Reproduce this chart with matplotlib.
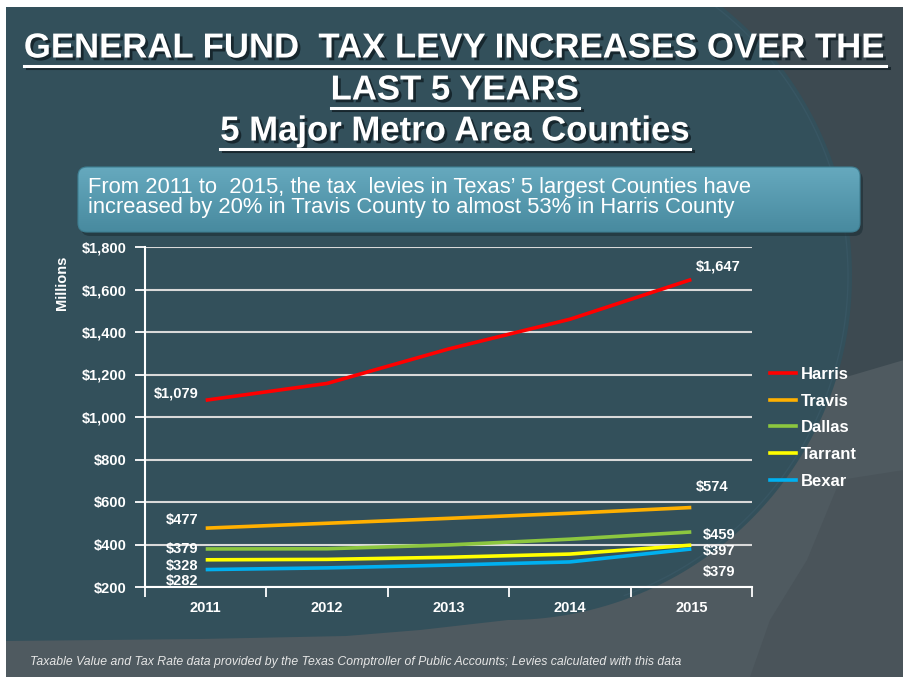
import numpy as np
import matplotlib
matplotlib.use("Agg")
import matplotlib.pyplot as plt
import matplotlib.patheffects as pe
from matplotlib.patches import Polygon, FancyBboxPatch, Rectangle
from matplotlib.lines import Line2D

# ---------------- data ----------------
years = ["2011", "2012", "2013", "2014", "2015"]
harris = [1079, 1158, 1320, 1460, 1647]
travis = [477, 500, 523, 547, 574]
dallas = [379, 380, 398, 425, 459]
tarrant = [328, 330, 340, 355, 397]
bexar = [282, 290, 303, 318, 379]
series_names = ["Harris", "Travis", "Dallas", "Tarrant", "Bexar"]
series_values = [harris, travis, dallas, tarrant, bexar]
series_colors = ["#ff0000", "#ffb000", "#8cc63f", "#ffff00", "#00b0f0"]
y_ticks = [200, 400, 600, 800, 1000, 1200, 1400, 1600, 1800]
y_ticklabels = ["$200", "$400", "$600", "$800", "$1,000", "$1,200", "$1,400", "$1,600", "$1,800"]

title_lines = ["GENERAL FUND  TAX LEVY INCREASES OVER THE", "LAST 5 YEARS", "5 Major Metro Area Counties"]
callout_lines = ["From 2011 to  2015, the tax  levies in Texas\u2019 5 largest Counties have",
                 "increased by 20% in Travis County to almost 53% in Harris County"]
footer = "Taxable Value and Tax Rate data provided by the Texas Comptroller of Public Accounts; Levies calculated with this data"

FONT = ["Liberation Sans", "DejaVu Sans"]
plt.rcParams["font.family"] = FONT

W, H = 904, 677
fig = plt.figure(figsize=(W / 100, H / 100), dpi=100)
fig.patch.set_facecolor("white")

# ---------------- background (pixel coordinates, y down) ----------------
bg = fig.add_axes([0, 0, 1, 1])
bg.set_xlim(0, W)
bg.set_ylim(H, 0)
bg.axis("off")

bg.add_patch(Rectangle((6, 7), W - 6, H - 7, facecolor="#3d4a51", edgecolor="none", zorder=0))
bg.add_patch(Polygon([(W, 360), (W, H), (6, H), (6, 624)], closed=True,
                     facecolor="#4f5a60", edgecolor="none", zorder=0.5))
bg.add_patch(Polygon([(W, 470), (840, 480), (807, 560), (770, 620), (750, H), (W, H)], closed=True,
                     facecolor="#4a545a", edgecolor="none", zorder=0.6))

cx, cy, r = 508, 276, 344
a_start = np.arcsin((7 - cy) / r)
ang = np.linspace(a_start, np.pi / 2, 120)
arc = np.column_stack([cx + r * np.cos(ang), cy + r * np.sin(ang)])
pts = [(6, 7)] + [tuple(p) for p in arc] + [(420, 630), (346, 636), (200, 639), (6, 641)]
bg.add_patch(Polygon(pts, closed=True, facecolor="#33505b", edgecolor="none", zorder=1))
ang2 = np.linspace(np.deg2rad(-60), np.deg2rad(70), 120)
bg.plot(cx + (r - 4) * np.cos(ang2), cy + (r - 4) * np.sin(ang2), color="#385663", lw=1.0, zorder=1.1)

bg.add_patch(Rectangle((0, 0), W, 7, facecolor="white", edgecolor="none", zorder=2))
bg.add_patch(Rectangle((0, 0), 6, H, facecolor="white", edgecolor="none", zorder=2))

# ---------------- title ----------------
shadow = [pe.withSimplePatchShadow(offset=(2, -2), shadow_rgbFace="#14232a", alpha=0.9)]
title_y = [48, 90, 131]
title_objs = []
for txt, yy in zip(title_lines, title_y):
    t = bg.text(455, yy, txt, ha="center", va="center", fontsize=25, fontweight="bold",
                color="white", path_effects=shadow, zorder=5)
    title_objs.append(t)

# ---------------- callout box ----------------
bx0, by0, bx1, by1 = 78, 167, 860, 232
bg.add_patch(FancyBboxPatch((bx0 + 3, by0 + 4), bx1 - bx0, by1 - by0,
                            boxstyle="round,pad=0,rounding_size=9", facecolor="#1d2f36",
                            edgecolor="none", alpha=0.6, zorder=3))
box = FancyBboxPatch((bx0, by0), bx1 - bx0, by1 - by0, boxstyle="round,pad=0,rounding_size=9",
                     facecolor="none", edgecolor="#3f7f92", linewidth=0.8, zorder=4)
bg.add_patch(box)
c1 = np.array([0x66, 0xa9, 0xbe]) / 255
c2 = np.array([0x48, 0x8a, 0x9f]) / 255
g2 = np.linspace(0, 1, 128)[:, None, None]
bimg = c1[None, None, :] * (1 - g2) + c2[None, None, :] * g2
im = bg.imshow(bimg, extent=[bx0, bx1, by1, by0], aspect="auto", zorder=3.5)
im.set_clip_path(box)
for txt, yy in zip(callout_lines, [187, 208]):
    bg.text(88, yy, txt, ha="left", va="center", fontsize=15.8, color="white", zorder=6)

# ---------------- footer ----------------
bg.text(30, 662, footer, ha="left", va="center", fontsize=8.8, style="italic",
        color="#e6e6e6", zorder=6)

# ---------------- chart ----------------
x0, x1, ytop, ybot = 145, 752, 247, 587
ax = fig.add_axes([x0 / W, 1 - ybot / H, (x1 - x0) / W, (ybot - ytop) / H])
ax.set_facecolor("none")
xs = np.arange(len(years))
for name, vals, col in zip(series_names, series_values, series_colors):
    ax.plot(xs, vals, color=col, lw=2.6, label=name, solid_capstyle="butt", zorder=3)

ax.set_xlim(-0.5, len(years) - 0.5)
ax.set_ylim(200, 1800)
ax.set_yticks(y_ticks)
ax.set_yticklabels(y_ticklabels)
ax.set_xticks(np.arange(-0.5, len(years), 1.0))
ax.set_xticklabels([])
ax.set_xticks(xs, minor=True)
ax.set_xticklabels(years, minor=True)
ax.tick_params(axis="x", which="major", length=7, width=1.3, color="white", direction="out")
ax.tick_params(axis="x", which="minor", length=0, pad=10, labelsize=10.5, labelcolor="white")
ax.tick_params(axis="y", length=7, width=1.3, color="white", direction="out", pad=6,
               labelsize=10.5, labelcolor="white")
for lab in ax.get_yticklabels() + ax.get_xticklabels(minor=True):
    lab.set_fontweight("bold")
ax.grid(axis="y", color="#d9d9d9", lw=1.5, zorder=1)
for s in ["top", "right"]:
    ax.spines[s].set_visible(False)
for s in ["left", "bottom"]:
    ax.spines[s].set_color("white")
    ax.spines[s].set_linewidth(1.5)

fig.text(62 / W, 1 - 283 / H, "Millions", rotation=90, ha="center", va="center",
         fontsize=10.5, fontweight="bold", color="white")

lab_kw = dict(fontsize=10.5, fontweight="bold", color="white", textcoords="offset pixels", va="center")
first_offsets = [(-7, 7), (-7, 8), (-7, 0), (-7, -6), (-7, -11)]
last_offsets = [(5, 13), (5, 21), (12, -3), (12, -6), (12, -23)]
for vals, fo, lo in zip(series_values, first_offsets, last_offsets):
    ax.annotate(f"${vals[0]:,}", (0, vals[0]), xytext=fo, ha="right", **lab_kw)
    ax.annotate(f"${vals[-1]:,}", (len(vals) - 1, vals[-1]), xytext=lo, ha="left", **lab_kw)

handles = [Line2D([0], [0], color=c, lw=2.6) for c in series_colors]
leg = fig.legend(handles, series_names, loc="upper left", bbox_to_anchor=(755 / W, 1 - 352 / H),
                 frameon=False, handlelength=1.55, handletextpad=0.3, labelspacing=0.70,
                 prop=dict(family=FONT, size=12, weight="bold"))
for t in leg.get_texts():
    t.set_color("white")

fig.canvas.draw()
ren = fig.canvas.get_renderer()
for t in title_objs:
    bb = t.get_window_extent(ren)
    yline = H - bb.y0 + 1
    bg.plot([bb.x0, bb.x1], [yline, yline], color="white", lw=2.2, zorder=5,
            path_effects=[pe.SimpleLineShadow(offset=(2, -2), shadow_color="#14232a", alpha=0.9), pe.Normal()])

fig.savefig("out.png", dpi=100, facecolor=fig.get_facecolor())
